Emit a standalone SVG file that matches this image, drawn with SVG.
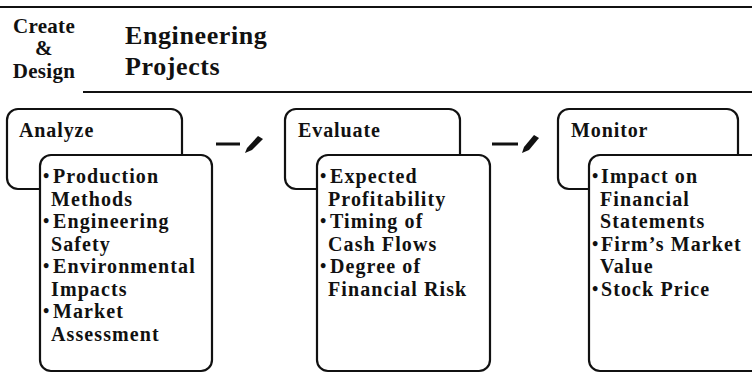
<svg xmlns="http://www.w3.org/2000/svg" width="752" height="375" viewBox="0 0 752 375">
<style>
  text { font-family: "Liberation Serif", "Times New Roman", serif; font-weight: bold; fill: #111; }
  .head { font-size: 21px; letter-spacing: 0.3px; }
  .title { font-size: 26px; letter-spacing: 0.6px; }
  .label { font-size: 20px; letter-spacing: 0.9px; }
  .item { font-size: 20px; letter-spacing: 1.1px; }
  .bul { font-size: 18px; }
  .box { fill: #fff; stroke: #111; stroke-width: 2.2; }
  .rule { stroke: #111; stroke-width: 2; }
  .dash { stroke: #111; stroke-width: 3; }
  .pen { fill: #111; }
</style>
<rect width="752" height="375" fill="#fff"/>
<g id="header">
  <line class="rule" x1="0" y1="7" x2="752" y2="7"/>
  <line class="rule" x1="83" y1="92" x2="752" y2="92"/>
  <text class="head" x="44" y="33" text-anchor="middle">Create</text>
  <text class="head" x="44" y="55" text-anchor="middle">&amp;</text>
  <text class="head" x="44" y="78" text-anchor="middle">Design</text>
  <text class="title" x="125" y="44">Engineering</text>
  <text class="title" x="125" y="75">Projects</text>
</g>
<g id="connectors">
  <line class="dash" x1="216" y1="144" x2="240" y2="144"/>
  <polygon class="pen" points="245,153 247,148 258,136 263,139 252,150"/>
  <line class="dash" x1="492" y1="144" x2="518" y2="144"/>
  <polygon class="pen" points="522,153 524,147 534,135 539,138 529,150"/>
</g>
<g id="analyze">
  <rect class="box" x="7" y="109" width="175" height="80" rx="11"/>
  <text class="label" x="19" y="137">Analyze</text>
  <rect class="box" x="40" y="155" width="172" height="216" rx="11"/>
  <text class="bul" x="43" y="182">•</text>
  <text class="item" x="53" y="183">Production</text>
  <text class="item" x="51" y="206">Methods</text>
  <text class="bul" x="43" y="227">•</text>
  <text class="item" x="53" y="228">Engineering</text>
  <text class="item" x="51" y="251">Safety</text>
  <text class="bul" x="43" y="272">•</text>
  <text class="item" x="53" y="273">Environmental</text>
  <text class="item" x="51" y="296">Impacts</text>
  <text class="bul" x="43" y="317">•</text>
  <text class="item" x="53" y="318">Market</text>
  <text class="item" x="51" y="341">Assessment</text>
</g>
<g id="evaluate">
  <rect class="box" x="285" y="109" width="175" height="80" rx="11"/>
  <text class="label" x="298" y="137">Evaluate</text>
  <rect class="box" x="317" y="155" width="173" height="216" rx="11"/>
  <text class="bul" x="320" y="182">•</text>
  <text class="item" x="330" y="183">Expected</text>
  <text class="item" x="328" y="206">Profitability</text>
  <text class="bul" x="320" y="227">•</text>
  <text class="item" x="330" y="228">Timing of</text>
  <text class="item" x="328" y="251">Cash Flows</text>
  <text class="bul" x="320" y="272">•</text>
  <text class="item" x="330" y="273">Degree of</text>
  <text class="item" x="328" y="296">Financial Risk</text>
</g>
<g id="monitor">
  <rect class="box" x="558" y="109" width="180" height="80" rx="11"/>
  <text class="label" x="571" y="137">Monitor</text>
  <rect class="box" x="589" y="155" width="190" height="216" rx="11"/>
  <text class="bul" x="592" y="182">•</text>
  <text class="item" x="601" y="183">Impact on</text>
  <text class="item" x="600" y="206">Financial</text>
  <text class="item" x="600" y="228">Statements</text>
  <text class="bul" x="592" y="250">•</text>
  <text class="item" x="601" y="251">Firm’s Market</text>
  <text class="item" x="600" y="273">Value</text>
  <text class="bul" x="592" y="295">•</text>
  <text class="item" x="601" y="296">Stock Price</text>
</g>
</svg>
